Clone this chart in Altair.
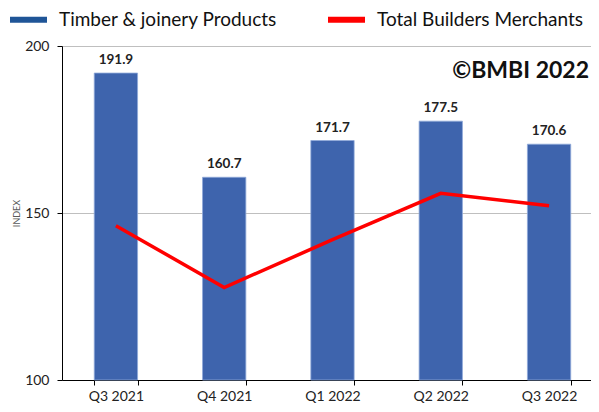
import altair as alt
import pandas as pd

quarters = ["Q3 2021", "Q4 2021", "Q1 2022", "Q2 2022", "Q3 2022"]
timber_values = [191.9, 160.7, 171.7, 177.5, 170.6]
total_values = [146.2, 127.7, 142.0, 155.9, 152.2]
series_names = ["Timber & joinery Products", "Total Builders Merchants"]
series_colors = ["#1f5597", "#ff0000"]

bars_df = pd.DataFrame({"Quarter": quarters, "Value": timber_values,
                        "Label": [f"{v:.1f}" for v in timber_values]})
line_df = pd.DataFrame({"Quarter": quarters, "Value": total_values,
                        "Series": [series_names[1]] * len(quarters)})

FONT = "Lato"

x_enc = alt.X("Quarter:N", sort=quarters,
              scale=alt.Scale(paddingInner=0.6, paddingOuter=0.2425, align=0.614),
              axis=alt.Axis(title=None, labelAngle=0, labelFontSize=14, labelColor="#222222",
                            labelFont=FONT, labelPadding=4, tickBand="extent", tickSize=5,
                            tickColor="#000000", domainColor="#000000", grid=False))
y_scale = alt.Scale(domain=[100, 200], nice=False, zero=False)

bars = alt.Chart(bars_df).mark_bar(color="#3e64ad", stroke="#8fa9d9", strokeWidth=0.8).encode(
    x=x_enc,
    y=alt.Y("Value:Q", scale=y_scale,
            axis=alt.Axis(values=[100, 150, 200], title="INDEX", titleFontSize=9,
                          titleFontWeight="normal", titleColor="#595959", titleFont=FONT,
                          titlePadding=3, labelFontSize=14, labelColor="#222222",
                          labelFont=FONT, labelPadding=8, tickSize=5, tickColor="#000000",
                          domainColor="#000000", gridColor="#bfbfbf", gridWidth=1.2)),
    y2=alt.datum(100),
)

labels = alt.Chart(bars_df).mark_text(dy=-6, fontSize=13.5, fontWeight="bold", font=FONT,
                                      color="#222222", baseline="bottom").encode(
    x=alt.X("Quarter:N", sort=quarters),
    y=alt.Y("Value:Q", scale=y_scale),
    text="Label:N",
)

line = alt.Chart(line_df).mark_line(strokeWidth=3.5).encode(
    x=alt.X("Quarter:N", sort=quarters),
    y=alt.Y("Value:Q", scale=y_scale),
    color=alt.Color("Series:N",
                    scale=alt.Scale(domain=series_names, range=series_colors),
                    legend=alt.Legend(title=None, orient="none", direction="horizontal",
                                      legendX=-55, legendY=-48, symbolType="stroke",
                                      symbolSize=1369, symbolStrokeWidth=6,
                                      labelFontSize=19, labelFont=FONT, labelColor="#111111",
                                      labelOffset=9, columnPadding=38, labelLimit=0)),
)

copyright_df = pd.DataFrame({"t": ["©BMBI 2022"]})
copyright_txt = alt.Chart(copyright_df).mark_text(
    align="right", baseline="alphabetic", fontSize=23, fontWeight="bold", font=FONT,
    color="#111111").encode(x=alt.value(527), y=alt.value(32), text="t:N")

chart = alt.layer(bars, labels, line, copyright_txt).properties(
    width=529, height=334,
    autosize=alt.AutoSizeParams(type="none"),
    padding={"left": 54, "top": 38, "right": 0, "bottom": 24},
).configure_view(stroke=None).configure(background="white")

chart.save("out.html", embed_options={"renderer": "svg", "actions": False})
